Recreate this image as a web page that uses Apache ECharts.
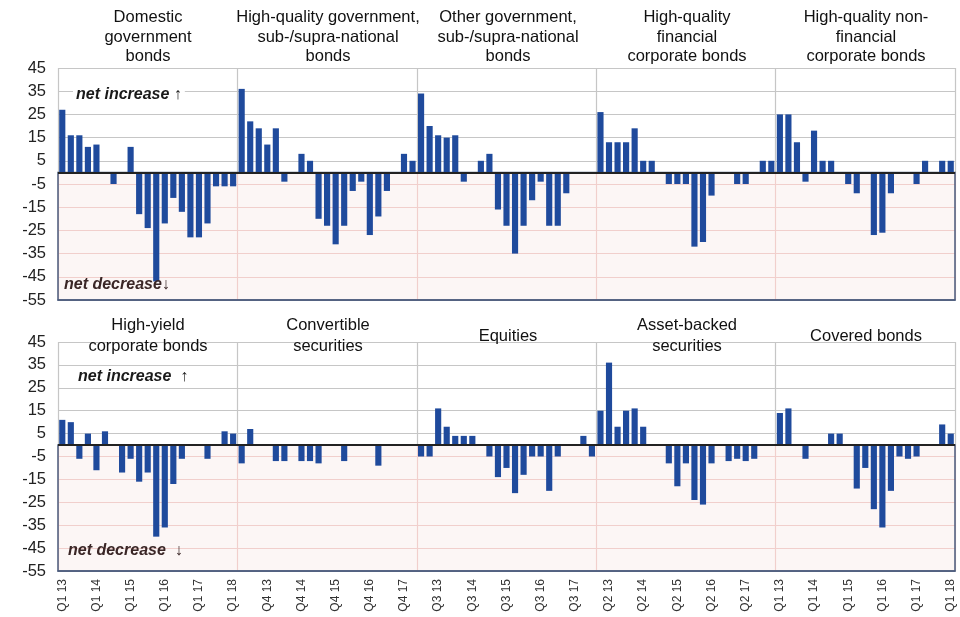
<!DOCTYPE html>
<html>
<head>
<meta charset="utf-8">
<script src="https://cdn.jsdelivr.net/npm/echarts@6/dist/echarts.min.js"></script>
<style>
html, body { margin: 0; padding: 0; background: #fff; }
#chart { width: 960px; height: 617px; }
</style>
</head>
<body>
<div id="chart"></div>
<script>
// quarters of one panel
const quarters = ['Q1 13', 'Q2 13', 'Q3 13', 'Q4 13', 'Q1 14', 'Q2 14', 'Q3 14', 'Q4 14',
    'Q1 15', 'Q2 15', 'Q3 15', 'Q4 15', 'Q1 16', 'Q2 16', 'Q3 16', 'Q4 16',
    'Q1 17', 'Q2 17', 'Q3 17', 'Q4 17', 'Q1 18'];

// top row panels
const domesticGov = [27, 16, 16, 11, 12, 0, -5, 0, 11, -18, -24, -47, -22, -11, -17, -28, -28, -22, -6, -6, -6];
const hqGov = [36, 22, 19, 12, 19, -4, 0, 8, 5, -20, -23, -31, -23, -8, -4, -27, -19, -8, 0, 8, 5];
const otherGov = [34, 20, 16, 15, 16, -4, 0, 5, 8, -16, -23, -35, -23, -12, -4, -23, -23, -9, 0, 0, 0];
const hqFinCorp = [26, 13, 13, 13, 19, 5, 5, 0, -5, -5, -5, -32, -30, -10, 0, 0, -5, -5, 0, 5, 5];
const hqNonFinCorp = [25, 25, 13, -4, 18, 5, 5, 0, -5, -9, 0, -27, -26, -9, 0, 0, -5, 5, 0, 5, 5];

// bottom row panels
const highYield = [11, 10, -6, 5, -11, 6, 0, -12, -6, -16, -12, -40, -36, -17, -6, 0, 0, -6, 0, 6, 5];
const convertibles = [-8, 7, 0, 0, -7, -7, 0, -7, -7, -8, 0, 0, -7, 0, 0, 0, -9, 0, 0, 0, 0];
const equities = [-5, -5, 16, 8, 4, 4, 4, 0, -5, -14, -10, -21, -13, -5, -5, -20, -5, 0, 0, 4, -5];
const assetBacked = [15, 36, 8, 15, 16, 8, 0, 0, -8, -18, -8, -24, -26, -8, 0, -7, -6, -7, -6, 0, 0];
const coveredBonds = [14, 16, 0, -6, 0, 0, 5, 5, 0, -19, -10, -28, -36, -20, -5, -6, -5, 0, 0, 9, 5];

const topTitles = ['Domestic\ngovernment\nbonds', 'High-quality government,\nsub-/supra-national\nbonds',
    'Other government,\nsub-/supra-national\nbonds', 'High-quality\nfinancial\ncorporate bonds',
    'High-quality non-\nfinancial\ncorporate bonds'];
const bottomTitles = ['High-yield\ncorporate bonds', 'Convertible\nsecurities', 'Equities',
    'Asset-backed\nsecurities', 'Covered bonds'];

const categories = [].concat(quarters, quarters, quarters, quarters, quarters);
const topData = [].concat(domesticGov, hqGov, otherGov, hqFinCorp, hqNonFinCorp);
const bottomData = [].concat(highYield, convertibles, equities, assetBacked, coveredBonds);

const FONT = 'Liberation Sans, Arial, sans-serif';
const BAR = '#1f4a9c';
const BOX = '#4a5b7c';
const PINK_LINE = '#f3d3d0';
const GRAY_LINE = '#c6c6c6';

const grids = [
    { left: 58, right: 5, top: 68, height: 232 },
    { left: 58, right: 5, top: 342, height: 229 }
];
const panelCenters = [148, 328, 508, 687, 866];

function sepColor(g) {
    const y0 = g.top, y1 = g.top + g.height;
    return new echarts.graphic.LinearGradient(0, y0, 0, y1, [
        { offset: 0, color: GRAY_LINE }, { offset: 0.449, color: GRAY_LINE },
        { offset: 0.451, color: PINK_LINE }, { offset: 1, color: PINK_LINE }
    ], true);
}

var chartDom = document.getElementById('chart');
var myChart = echarts.init(chartDom);
var option;

const titles = [];
topTitles.forEach((t, i) => titles.push({
    text: t, left: panelCenters[i], top: 8, textAlign: 'center', padding: 0,
    textStyle: { fontFamily: FONT, fontSize: 16.5, fontWeight: 'normal', color: '#111', lineHeight: 19.5 }
}));
bottomTitles.forEach((t, i) => titles.push({
    text: t, left: panelCenters[i], top: t.indexOf('\n') >= 0 ? 315 : 326, textAlign: 'center', padding: 0,
    textStyle: { fontFamily: FONT, fontSize: 16.5, fontWeight: 'normal', color: '#111', lineHeight: 21 }
}));

const xAxes = [], yAxes = [], series = [];
[topData, bottomData].forEach((data, gi) => {
    xAxes.push({
        type: 'category', gridIndex: gi, data: categories,
        axisLine: { onZero: false, lineStyle: { color: BOX, width: 1.5 } },
        axisTick: { show: false },
        axisLabel: {
            show: gi === 1, interval: 3, rotate: 90, margin: 8,
            fontFamily: FONT, fontSize: 12, color: '#333'
        },
        splitLine: { show: false }
    });
    // hidden value axis only used for the panel separators
    xAxes.push({
        type: 'value', gridIndex: gi, min: 0, max: 105, interval: 21, position: 'top',
        axisLine: { show: false }, axisTick: { show: false }, axisLabel: { show: false },
        splitLine: { show: true, lineStyle: { color: sepColor(grids[gi]), width: 1.2 } }
    });
    yAxes.push({
        type: 'value', gridIndex: gi, min: -55, max: 45, interval: 10,
        axisLine: { show: false }, axisTick: { show: false },
        axisLabel: { fontFamily: FONT, fontSize: 16.5, color: '#222', margin: 12 },
        splitLine: {
            lineStyle: {
                width: 1.2,
                color: [PINK_LINE, PINK_LINE, PINK_LINE, PINK_LINE, PINK_LINE, PINK_LINE,
                    GRAY_LINE, GRAY_LINE, GRAY_LINE, GRAY_LINE, GRAY_LINE]
            }
        }
    });
    series.push({
        type: 'bar', xAxisIndex: gi * 2, yAxisIndex: gi, data: data,
        barCategoryGap: '28%',
        itemStyle: { color: BAR },
        silent: true,
        markArea: {
            silent: true,
            itemStyle: { color: 'rgba(235, 185, 175, 0.13)', borderColor: BOX, borderWidth: 1.5 },
            data: [[{ yAxis: 0 }, { yAxis: -55 }]]
        },
        markLine: {
            silent: true, symbol: 'none', label: { show: false },
            lineStyle: { color: '#222', width: 2, type: 'solid' },
            data: [{ yAxis: 0 }]
        }
    });
});

const noteStyle = { fontFamily: FONT, fontSize: 16, fontWeight: 'bold', fontStyle: 'italic', fill: '#1a1a1a' };
function note(x, y, text, fill, bg) {
    const style = Object.assign({}, noteStyle, { text: text, fill: fill || noteStyle.fill, padding: [1, 3] });
    if (bg) style.backgroundColor = bg;
    return { type: 'text', left: x, top: y, z: 10, style: style };
}

option = {
    animation: false,
    title: titles,
    grid: grids,
    xAxis: xAxes,
    yAxis: yAxes,
    series: series,
    graphic: [
        note(73, 86, 'net increase \u2191', '#1a1a1a', '#ffffff'),
        note(64, 277, 'net decrease\u2193', '#3a2626'),
        note(75, 368, 'net increase  \u2191', '#1a1a1a', '#ffffff'),
        note(68, 543, 'net decrease  \u2193', '#3a2626')
    ]
};

option && myChart.setOption(option);
</script>
</body>
</html>
